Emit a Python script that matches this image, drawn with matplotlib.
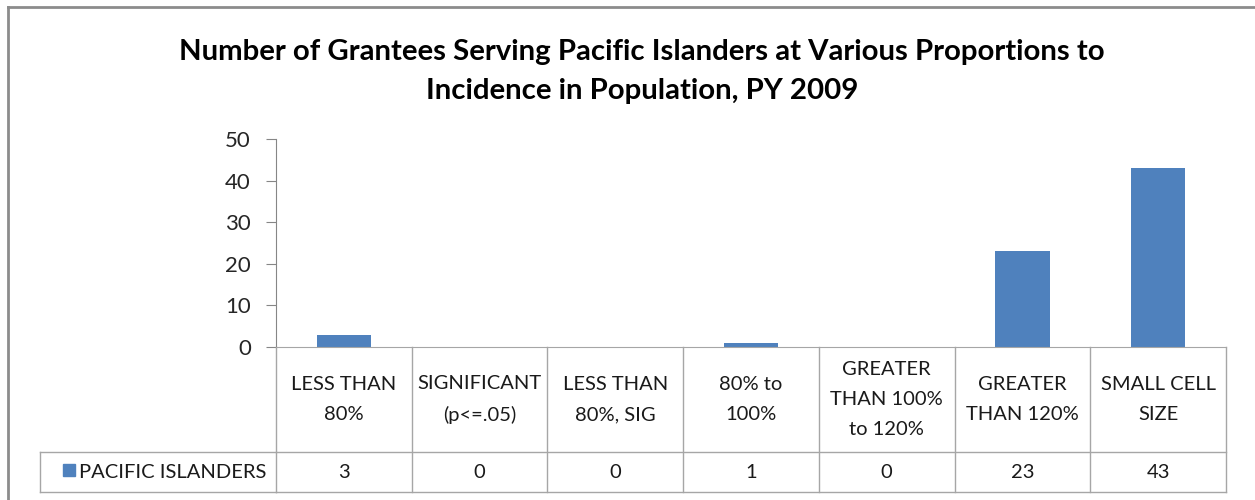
import matplotlib.pyplot as plt
from matplotlib.transforms import blended_transform_factory
from matplotlib.patches import Rectangle

# data
categories = ['LESS THAN\n80%', 'SIGNIFICANT\n(p<=.05)', 'LESS THAN\n80%, SIG',
              '80% to\n100%', 'GREATER\nTHAN 100%\nto 120%', 'GREATER\nTHAN 120%',
              'SMALL CELL\nSIZE']
values = [3, 0, 0, 1, 0, 23, 43]
series_name = 'PACIFIC ISLANDERS'
title_lines = ['Number of Grantees Serving Pacific Islanders at Various Proportions to',
               'Incidence in Population, PY 2009']

bar_color = '#4F81BD'
grid_gray = '#A6A6A6'
axis_gray = '#868686'

plt.rcParams['font.family'] = ['Lato', 'DejaVu Sans']

W, H = 1255, 500
fig = plt.figure(figsize=(W / 100, H / 100), dpi=100)

def fx(px):
    return px / W

def fy(py):
    return 1 - py / H

left, right, top, bottom = 276, 1226, 139, 347
ax = fig.add_axes([fx(left), fy(bottom), fx(right - left), (bottom - top) / H])

x = list(range(len(values)))
ax.bar(x, values, width=0.4, color=bar_color, zorder=2)
ax.set_xlim(-0.5, len(values) - 0.5)
ax.set_ylim(0, 50)
ax.set_yticks(range(0, 51, 10))
ax.tick_params(axis='y', direction='out', length=7, color=axis_gray, labelsize=16,
               pad=11, labelcolor='#262626')
ax.set_xticks([])
for s in ['top', 'right']:
    ax.spines[s].set_visible(False)
ax.spines['left'].set_color(axis_gray)
ax.spines['bottom'].set_color(grid_gray)

# data table below the axis
trans = blended_transform_factory(ax.transData, fig.transFigure)
row_mid, row_bot = 452, 492
for i in range(len(values) + 1):
    xb = i - 0.5
    ax.plot([xb, xb], [fy(bottom), fy(row_bot)], color=grid_gray, lw=1,
            transform=trans, clip_on=False)
ax.plot([-0.5, len(values) - 0.5], [fy(row_mid), fy(row_mid)], color=grid_gray, lw=1,
        transform=trans, clip_on=False)
ax.plot([-0.5, len(values) - 0.5], [fy(row_bot), fy(row_bot)], color=grid_gray, lw=1,
        transform=trans, clip_on=False)
for i, (cat, v) in enumerate(zip(categories, values)):
    ax.text(i, fy((bottom + row_mid) / 2), cat, transform=trans, ha='center', va='center',
            fontsize=14.5, linespacing=1.95, color='#1a1a1a')
    ax.text(i, fy((row_mid + row_bot) / 2), str(v), transform=trans, ha='center',
            va='center', fontsize=14.5, color='#1a1a1a')

# legend cell
leg_left = 40
fig.add_artist(plt.Line2D([fx(leg_left), fx(left)], [fy(row_mid), fy(row_mid)],
                          color=grid_gray, lw=1))
fig.add_artist(plt.Line2D([fx(leg_left), fx(left)], [fy(row_bot), fy(row_bot)],
                          color=grid_gray, lw=1))
fig.add_artist(plt.Line2D([fx(leg_left), fx(leg_left)], [fy(row_mid), fy(row_bot)],
                          color=grid_gray, lw=1))
fig.add_artist(Rectangle((fx(63), fy(476)), fx(12), 12 / H, color=bar_color))
fig.text(fx(79), fy((row_mid + row_bot) / 2), series_name, ha='left', va='center',
         fontsize=14.5, color='#1a1a1a')

# title
fig.text(fx(642), fy(52), title_lines[0], ha='center', va='center', fontsize=21.2,
         fontweight='bold')
fig.text(fx(642), fy(91), title_lines[1], ha='center', va='center', fontsize=21.2,
         fontweight='bold')

# outer chart frame
fig.add_artist(plt.Line2D([fx(8), fx(8)], [0, fy(7)], color='#8c8c8c', lw=2))
fig.add_artist(plt.Line2D([fx(8), 1], [fy(7), fy(7)], color='#8c8c8c', lw=2))

fig.savefig('out.png', dpi=100)
